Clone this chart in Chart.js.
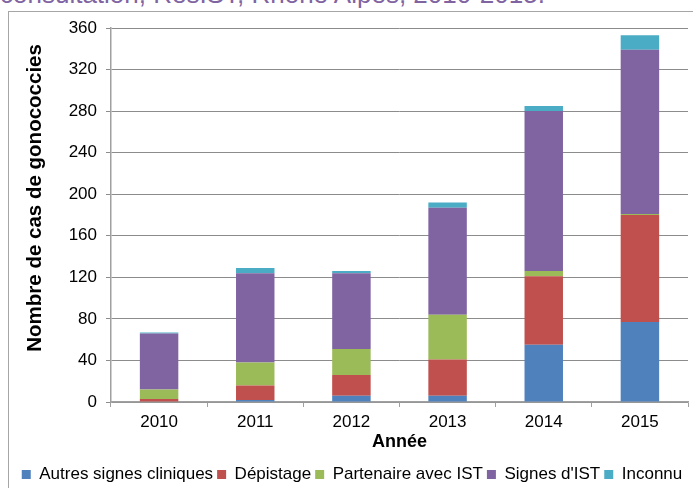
<!DOCTYPE html>
<html>
<head>
<meta charset="utf-8">
<script src="https://cdn.jsdelivr.net/npm/chart.js@4.4.0/dist/chart.umd.min.js"></script>
<style>
  html, body { margin: 0; padding: 0; background: #fff; }
  body { width: 693px; height: 488px; position: relative; overflow: hidden; font-family: "Liberation Sans", Arial, sans-serif; }
  #titre { position: absolute; left: 0; top: -19px; line-height: 26px; font-size: 26px; color: #8064a2; white-space: nowrap; }
  #cadre { position: absolute; left: 8px; top: 11px; width: 720px; height: 520px; border: 1px solid #a6a6a6; }
  #zone { position: absolute; left: 0; top: 0; width: 693px; height: 488px; }
</style>
</head>
<body>
<div id="titre">consultation, ResIST, Rhône Alpes, 2010-2015.</div>
<div id="cadre"></div>
<div id="zone"><canvas id="graficaGono"></canvas></div>
<script>
// Donnees

const annees = ['2010', '2011', '2012', '2013', '2014', '2015'];
const autresSignes = [0, 2, 6, 6, 55, 77];
const depistage = [3, 14, 20, 35, 66, 103];
const partenaire = [9, 22, 25, 43, 5, 1];
const signesIST = [54, 86, 73, 103, 154, 158];
const inconnu = [1, 5, 2, 5, 5, 14];
const ticksY = [0, 40, 80, 120, 160, 200, 240, 280, 320, 360];

const police = "'Liberation Sans', Arial, sans-serif";

// espaces en tete pour remonter un peu le titre vertical
const titreY = '\u00a0'.repeat(6) + 'Nombre de cas de gonococcies';

const data = {
  labels: annees,
  datasets: [
    { label: 'Autres signes cliniques', data: autresSignes, backgroundColor: '#4f81bd' },
    { label: 'Dépistage', data: depistage, backgroundColor: '#c0504d' },
    { label: 'Partenaire avec IST', data: partenaire, backgroundColor: '#9bbb59' },
    { label: "Signes d'IST", data: signesIST, backgroundColor: '#8064a2' },
    { label: 'Inconnu', data: inconnu, backgroundColor: '#4bacc6' }
  ]
};

const config = {
  type: 'bar',
  data,
  options: {
    responsive: true,
    maintainAspectRatio: false,
    animation: false,
    barPercentage: 0.4,
    categoryPercentage: 1,
    layout: { padding: { top: 28, left: 16, right: 5, bottom: -5 } },
    plugins: {
      tooltip: { enabled: false },
      legend: {
        position: 'bottom',
        labels: {
          boxWidth: 9,
          boxHeight: 9,
          padding: 4,
          color: '#000',
          font: { family: police, size: 17 }
        }
      }
    },
    scales: {
      x: {
        stacked: true,
        afterFit: (scale) => { scale.height = 60; },
        grid: { drawOnChartArea: false, tickLength: 5, color: '#a0a0a0' },
        border: { color: '#a0a0a0', width: 1.5 },
        ticks: { color: '#000', padding: 5, font: { family: police, size: 17 } },
        title: {
          display: true,
          text: 'Année',
          color: '#000',
          padding: { top: 0, bottom: 9 },
          font: { family: police, size: 18, weight: 'bold' }
        }
      },
      y: {
        stacked: true,
        min: 0,
        max: 360,
        afterFit: (scale) => { scale.width = 95; },
        afterBuildTicks: (scale) => { scale.ticks = ticksY.map(v => ({ value: v })); },
        grid: { color: '#8c8c8c', tickLength: 5 },
        border: { color: '#a0a0a0', width: 1.5 },
        ticks: { color: '#000', padding: 9, font: { family: police, size: 17 } },
        title: {
          display: true,
          text: titreY,
          color: '#000',
          padding: { top: 7, bottom: 0 },
          font: { family: police, size: 20.5, weight: 'bold' }
        }
      }
    }
  }
};

var gonoChart = new Chart(
  document.getElementById('graficaGono'),
  config
);
</script>
</body>
</html>
